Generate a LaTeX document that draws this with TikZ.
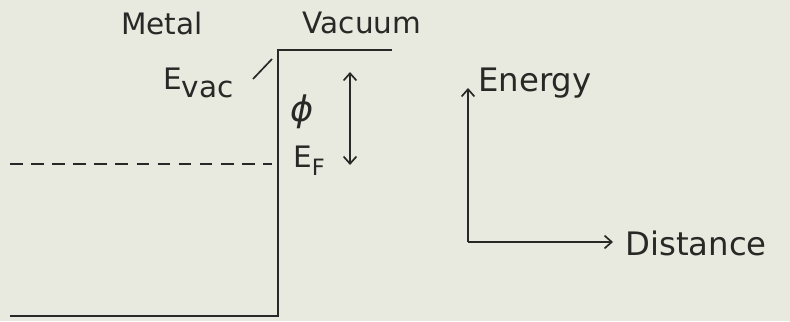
\documentclass[tikz,border=0pt]{standalone}
\usepackage{fontspec}
\setmainfont{DejaVu Sans}
\usepackage{tikz}
\usetikzlibrary{calc,positioning,arrows.meta,backgrounds}
\definecolor{paper}{RGB}{233,234,223}
\definecolor{ink}{RGB}{40,40,38}
\newcommand{\lowsub}[2]{#1\raisebox{-0.45ex}{#2}}
\tikzset{
  lbl/.style={inner sep=0pt,text=ink,font=\fontsize{21}{24}\selectfont},
  axlbl/.style={inner sep=0pt,text=ink,font=\fontsize{23}{26}\selectfont},
  band/.style={ink,line width=1.5pt},
  fermi/.style={ink,line width=1.5pt,dash pattern=on 9pt off 6pt},
  arr/.style={-{Straight Barb[length=1.8mm,width=3.2mm]},ink,line width=1.2pt},
  darr/.style={{Straight Barb[length=1.8mm,width=3.2mm]}-{Straight Barb[length=1.8mm,width=3.2mm]},ink,line width=1.2pt}
}

\begin{document}
\begin{tikzpicture}
  \fill[paper] (0,0) rectangle (19.75,8.025);
  \useasboundingbox (0,0) rectangle (19.75,8.025);
  % band outline of metal and vacuum
  \coordinate (vacend) at (9.8,6.775);
  \coordinate (step) at (6.95,6.775);
  \coordinate (stepbot) at (6.95,0.125);
  \coordinate (metalbot) at (0.25,0.125);
  \draw[band] (vacend) -- (step) -- (stepbot) -- (metalbot);
  \coordinate (fleft) at (0.25,3.925);
  \coordinate (fright) at (6.8,3.925);
  \draw[fermi] (fleft) -- (fright);
  \node[lbl] (metal) at (4.05,7.45) {Metal};
  \node[lbl] (vacuum) at (9.05,7.45) {Vacuum};
  \node[lbl,anchor=base west] (evac) at (4.075,5.775) {\lowsub{E}{vac}};
  \coordinate (ticka) at (6.325,6.05);
  \coordinate (tickb) at (6.8,6.55);
  \draw[ink,line width=1.2pt] (ticka) -- (tickb);
  \node[lbl,font=\fontsize{25}{28}\selectfont\itshape] (phi) at (7.55,5.22) {ϕ};
  \node[lbl,anchor=base west] (ef) at (7.325,3.825) {\lowsub{E}{\fontsize{16}{18}\selectfont F}};
  \coordinate (wtop) at (8.75,6.225);
  \coordinate (wbot) at (8.75,3.9);
  \draw[darr] (wbot) -- (wtop);
  % axes
  \coordinate (origin) at (11.7,1.975);
  \coordinate (etop) at (11.7,5.825);
  \coordinate (dend) at (15.325,1.975);
  \draw[arr] (origin) -- (etop);
  \draw[arr] (origin) -- (dend);
  \node[axlbl,anchor=base west] (energy) at (11.95,5.725) {Energy};
  \node[axlbl,anchor=base west] (distance) at (15.625,1.65) {Distance};
\end{tikzpicture}
\end{document}
